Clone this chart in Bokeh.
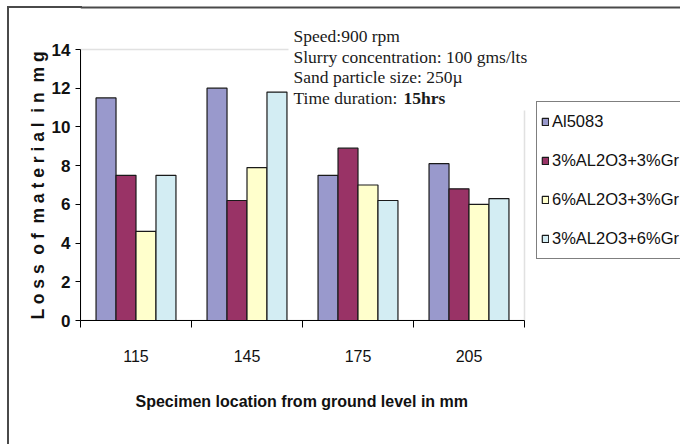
from bokeh.plotting import figure
from bokeh.models import (Range1d, FixedTicker, BoxAnnotation, Label,
                          Legend, LegendItem, Title)
from bokeh.embed import file_html
from bokeh.resources import INLINE

# ---- data ----
locations = ["115", "145", "175", "205"]
series_names = ["Al5083", "3%AL2O3+3%Gr", "6%AL2O3+3%Gr", "3%AL2O3+6%Gr"]
al5083 = [11.5, 12.0, 7.5, 8.1]
al2o3_3_gr_3 = [7.5, 6.2, 8.9, 6.8]
al2o3_6_gr_3 = [4.6, 7.9, 7.0, 6.0]
al2o3_3_gr_6 = [7.5, 11.8, 6.2, 6.3]
y_ticks = [0, 2, 4, 6, 8, 10, 12, 14]
y_max = 14
notes = ["Speed:900 rpm", "Slurry concentration: 100 gms/lts",
         "Sand particle size: 250\u00b5", "Time duration: "]
note_bold = "15hrs"
x_title = "Specimen location from ground level in mm"
y_title = "L o s s \u00a0o f \u00a0m a t e r i a l \u00a0i n \u00a0m g"

colors = ["#9999CC", "#993366", "#FFFFCC", "#D3EDF3"]
all_series = [al5083, al2o3_3_gr_3, al2o3_6_gr_3, al2o3_3_gr_6]

# layout in canvas px: plot area 80..524 x 49..320; the drawing frame is
# extended to the canvas top/right so annotations there are not clipped
W, H = 680, 444
PL, PT, PR, PB = 80, 49, 524, 320
n_cat = len(locations)
x_end = n_cat * (W - PL) / (PR - PL)
y_end = y_max * (PB - 0) / (PB - PT)

p = figure(width=W, height=H, x_range=Range1d(0, x_end), y_range=Range1d(0, y_end),
           output_backend="svg", toolbar_location=None,
           min_border_left=PL, min_border_right=0,
           min_border_top=0, min_border_bottom=H - PB)
p.outline_line_color = None
p.xgrid.visible = False
p.ygrid.visible = False
p.background_fill_alpha = 0
p.border_fill_alpha = 0
# outer picture frame (left edge and the start of the top edge) painted behind the canvas
p.styles = {
    "background-color": "white",
    "background-image": "linear-gradient(#4a4a4a, #4a4a4a), linear-gradient(#4a4a4a, #4a4a4a)",
    "background-size": "2px 440px, 75px 2px",
    "background-position": "7px 6px, 7px 6px",
    "background-repeat": "no-repeat, no-repeat",
}
# outer picture frame (rest of the top edge)
p.add_layout(BoxAnnotation(left=0, right=W - PL + 5, top=PB - 6, bottom=PB - 8,
                           left_units="screen", right_units="screen",
                           top_units="screen", bottom_units="screen",
                           fill_color="#4a4a4a", fill_alpha=1, line_alpha=0, level="underlay"))

# plot-area border (gray box, under bars and axes)
p.add_layout(BoxAnnotation(left=0, right=n_cat, bottom=0, top=y_max, fill_alpha=0,
                           line_color="#9a9a9a", line_width=1.5, level="underlay"))
# white box behind the annotation text (covers the border there)
p.add_layout(BoxAnnotation(left=288 - PL, right=534 - PL, top=PB - 10, bottom=PB - 110,
                           left_units="screen", right_units="screen",
                           top_units="screen", bottom_units="screen",
                           fill_color="white", fill_alpha=1, line_alpha=0, level="underlay"))

bw = 0.18
renderers = []
for j, (vals, col) in enumerate(zip(all_series, colors)):
    xs = [i + 0.5 + (j - 1.5) * bw for i in range(n_cat)]
    r = p.vbar(x=xs, top=vals, width=bw, fill_color=col, line_color="#1a1a1a", line_width=1.2)
    renderers.append(r)

# x axis
xa = p.xaxis[0]
xa.bounds = (0, n_cat)
xa.ticker = FixedTicker(ticks=[i + 0.5 for i in range(n_cat)],
                        minor_ticks=list(range(n_cat + 1)))
xa.major_label_overrides = {i + 0.5: loc for i, loc in enumerate(locations)}
xa.major_tick_out = 0
xa.major_tick_in = 0
xa.minor_tick_out = 7
xa.minor_tick_in = 0
xa.minor_tick_line_color = "black"
xa.axis_line_color = "black"
xa.major_label_standoff = 22
xa.major_label_text_font = "Liberation Sans"
xa.major_label_text_font_size = "16px"
xa.major_label_text_color = "#111111"

# x title, aligned under the plot area (not the extended frame)
p.add_layout(Title(text=x_title, align="left", offset=135 - PL, standoff=52,
                   text_font="Liberation Sans", text_font_style="bold",
                   text_font_size="16px", text_color="#111111"), "below")

# y axis
ya = p.yaxis[0]
ya.bounds = (0, y_max)
ya.ticker = FixedTicker(ticks=y_ticks)
ya.major_tick_out = 5
ya.major_tick_in = 0
ya.minor_tick_out = 0
ya.minor_tick_in = 0
ya.axis_line_color = "black"
ya.major_tick_line_color = "black"
ya.major_label_standoff = 5
ya.major_label_text_font = "Liberation Sans"
ya.major_label_text_font_style = "bold"
ya.major_label_text_font_size = "17px"
ya.major_label_text_color = "#111111"

p.add_layout(Title(text=y_title, align="left", offset=1, standoff=2,
                   text_font="Liberation Sans", text_font_style="bold",
                   text_font_size="17.5px", text_color="#111111"), "left")

# test-condition notes
line_y = [35, 56, 76, 97]
for txt, cy in zip(notes, line_y):
    p.add_layout(Label(x=293 - PL, y=PB - cy, x_units="screen", y_units="screen",
                       text=txt, text_font="Liberation Serif", text_font_size="17.5px",
                       text_baseline="middle", text_color="#1a1a1a"))
p.add_layout(Label(x=403 - PL, y=PB - line_y[-1], x_units="screen", y_units="screen",
                   text=note_bold, text_font="Liberation Serif", text_font_size="17.5px",
                   text_font_style="bold", text_baseline="middle", text_color="#1a1a1a"))

legend = Legend(items=[LegendItem(label=n, renderers=[r]) for n, r in zip(series_names, renderers)],
                location=(536 - PL, PB - 259))
legend.border_line_color = "black"
legend.border_line_width = 1
legend.background_fill_color = "white"
legend.background_fill_alpha = 1
legend.padding = 4
legend.margin = 0
legend.spacing = 8
legend.label_height = 31
legend.glyph_height = 9
legend.glyph_width = 8
legend.label_standoff = 3
legend.label_text_font = "Liberation Sans"
legend.label_text_font_size = "16.5px"
legend.label_text_color = "#111111"
p.add_layout(legend)

open("out.html", "w").write(file_html(p, INLINE))
